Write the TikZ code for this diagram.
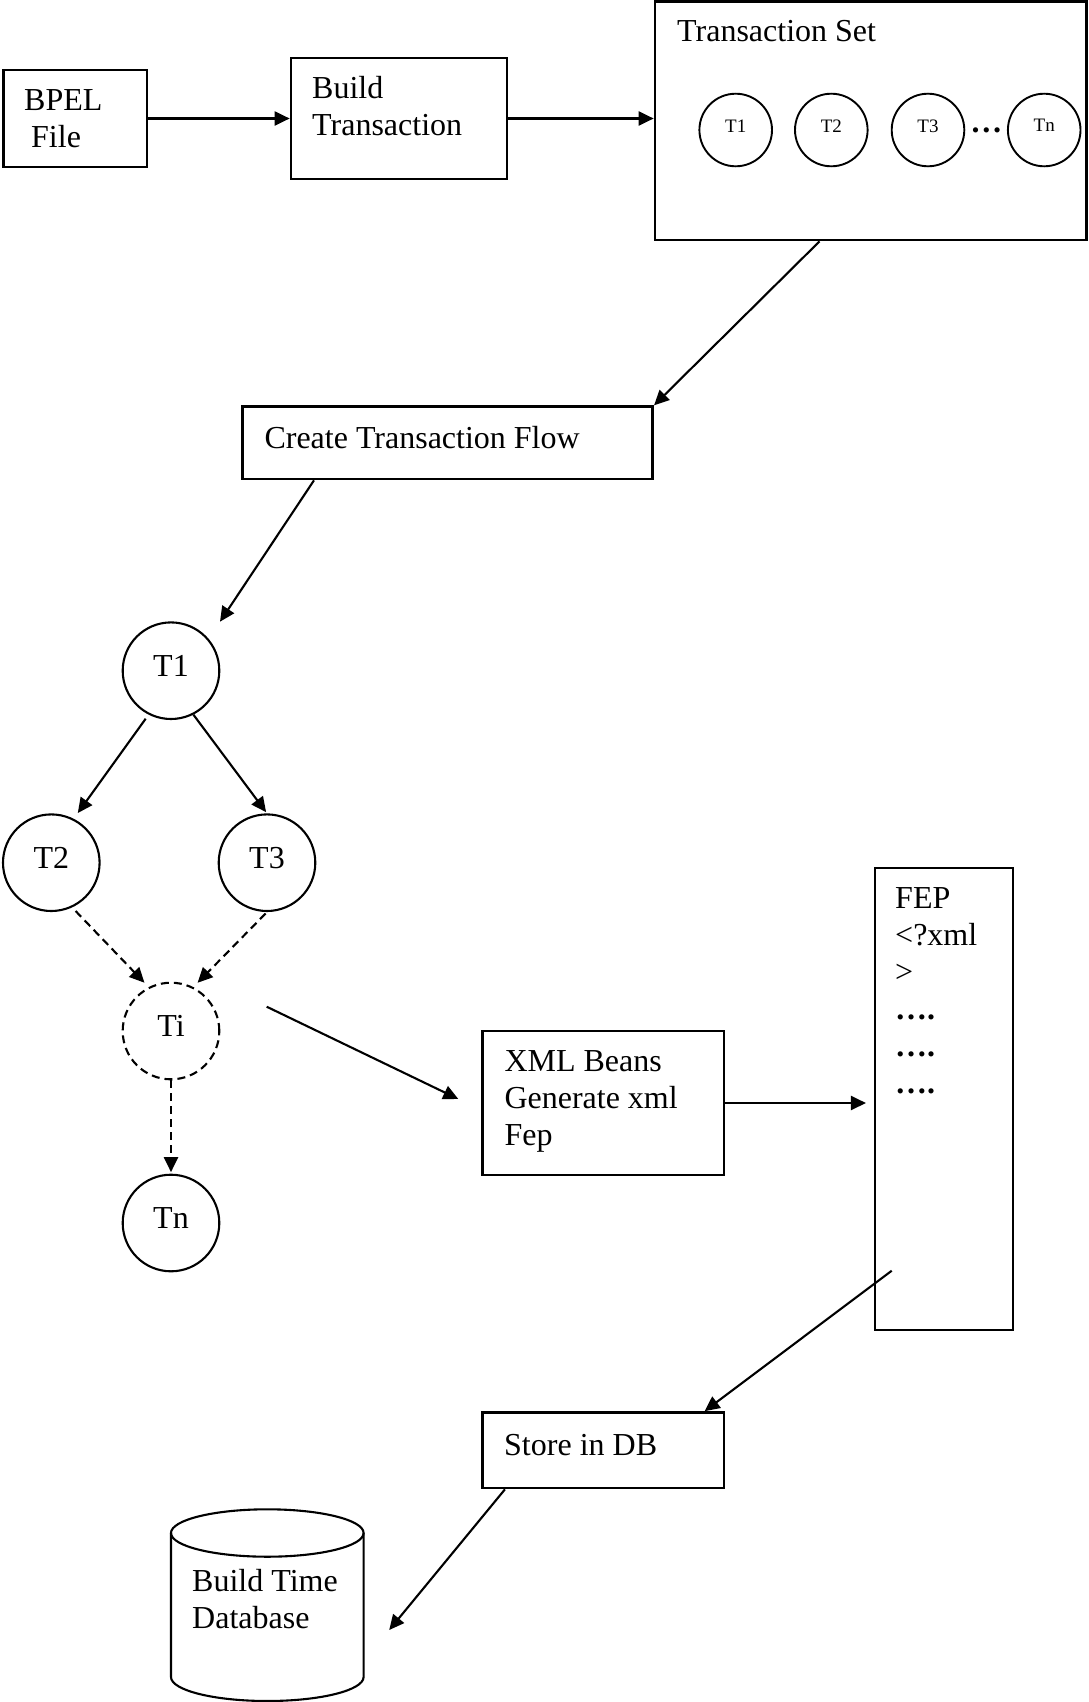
\documentclass[tikz,border=0pt]{standalone}
\usepackage{fontspec}
\setmainfont{Liberation Serif}
\usetikzlibrary{arrows.meta,fit,calc}
\newcommand{\flowfont}{\fontsize{32}{37}\selectfont}
\begin{document}
\begin{tikzpicture}[x=1pt,y=-1pt,
  box/.style={draw,line width=2.7pt,inner sep=0pt,rectangle},
  % the text depth lifts each label slightly above the circle centre
  tnode/.style={draw,circle,line width=2.1pt,minimum size=96.6pt,inner sep=0pt,
    text depth=10pt,font=\flowfont},
  smallt/.style={draw,circle,line width=1.9pt,minimum size=72.6pt,inner sep=0pt,
    text depth=8.5pt,font=\fontsize{19}{22}\selectfont},
  % multi-line texts are placed by the baseline of their last line
  txt/.style={anchor=base west,inner sep=0pt,align=left,font=\flowfont},
  conn/.style={line width=2.1pt,-{Triangle[length=15pt,width=14pt]}},
  dashconn/.style={conn,dash pattern=on 8pt off 5pt},
]
\useasboundingbox (0,0) rectangle (1089,1702);

% process boxes
\node[box,fit={(3.5,70) (147,167)}] (bpel) {};
\node[box,fit={(291,58) (507,179)}] (build) {};
\node[box,fit={(655,1.5) (1086.5,240)}] (tset) {};
\node[box,fit={(242.7,406.7) (652.7,479)}] (flow) {};
\node[box,fit={(482.7,1031) (724,1175)}] (xmlb) {};
\node[box,fit={(875,868) (1013,1330)}] (fep) {};
\node[box,fit={(482.7,1412.5) (724,1488)}] (store) {};

% box texts
\node[txt] (bpelL) at (24,147) {BPEL\\\hspace*{7pt}File};
\node[txt] (buildL) at (312,135.3) {Build\\Transaction};
\node[txt] (tsetL) at (677,41.7) {Transaction Set};
\node[txt] (flowL) at (264.3,448.3) {Create Transaction Flow};
\node[txt] (xmlL) at (504.3,1145.7) {XML Beans\\Generate xml\\Fep};
\node[txt] (fepL) at (895,1093.3) {FEP\\<?xml\\>\\\textbf{….}\\\textbf{….}\\\textbf{….}};
\node[txt] (storeL) at (504,1455) {Store in DB};

% transaction set members
\node[smallt] (s1) at (735.7,130) {T1};
\node[smallt] (s2) at (831.3,130) {T2};
\node[smallt] (s3) at (928,130) {T3};
\node[smallt] (sn) at (1044.2,130) {Tn};
\node[anchor=base,inner sep=0pt,font=\flowfont] (sdots) at (986.4,132) {\textbf{…}};

% transaction flow graph
\node[tnode] (T1) at (171,670.7) {T1};
\node[tnode] (T2) at (51.3,862.7) {T2};
\node[tnode] (T3) at (267,862.7) {T3};
\node[tnode,dash pattern=on 8pt off 5pt] (Ti) at (171,1031) {Ti};
\node[tnode] (Tn) at (171,1223) {Tn};

% build time database
\draw[line width=2.1pt] (171,1533) -- (171,1677)
  arc[start angle=180,end angle=360,x radius=96.3pt,y radius=24pt] -- (363.6,1533);
\draw[line width=2.1pt] (267.3,1533) ellipse[x radius=96.3pt,y radius=23.7pt];
\node[txt] (dbL) at (192,1628.7) {Build Time\\Database};

% connector end points
\coordinate (setout) at ($(tset.south west)!0.382!(tset.south east)$);
\coordinate (flowout) at ($(flow.south west)!0.176!(flow.south east)$);
\coordinate (t1in) at (220,621.7);
\coordinate (tiout) at (266.7,1006.7);
\coordinate (xmlin) at (458.3,1099);
\coordinate (fepout) at (891.7,1270.7);
\coordinate (storein) at ($(store.north west)!0.915!(store.north east)$);
\coordinate (storeout) at ($(store.south west)!0.0966!(store.south east)$);
\coordinate (dbin) at (389.2,1630);

% connectors
\draw[conn] (bpel) -- (build);
\draw[conn] (build.east) -- (build.east -| tset.west);
\draw[conn] (setout) -- (flow.north east);
\draw[conn] (flowout) -- (t1in);
\draw[conn,shorten <=5pt,shorten >=7pt] (T1.243) -- (T2.63);
\draw[conn,shorten >=1.5pt] (T1.297) -- (T3.north);
\draw[dashconn,shorten <=5pt,shorten >=6pt] (T2.295) -- (Ti.117);
\draw[dashconn,shorten <=2pt,shorten >=6pt] (T3.south) -- (Ti.63);
\draw[dashconn,shorten >=1.5pt] (Ti.south) -- (Tn.north);
\draw[conn] (tiout) -- (xmlin);
\draw[conn,shorten >=7.7pt] (xmlb.east) -- (xmlb.east -| fep.west);
\draw[conn] (fepout) -- (storein);
\draw[conn] (storeout) -- (dbin);
\end{tikzpicture}
\end{document}
